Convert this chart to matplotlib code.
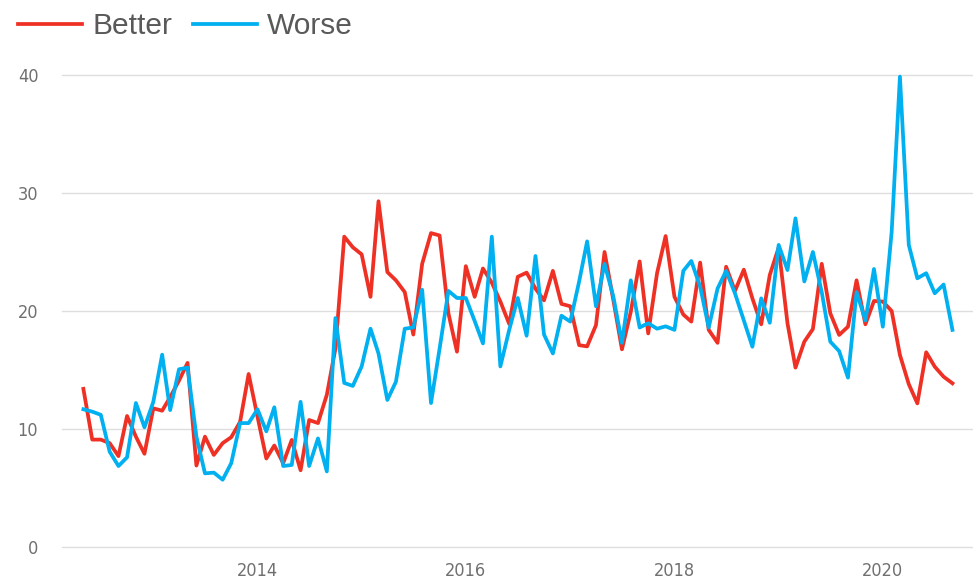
import matplotlib
matplotlib.use('Agg')
import matplotlib.pyplot as plt
import matplotlib.dates as mdates
import numpy as np
import pandas as pd

# monthly series, May 2012 .. Sep 2020
months = pd.date_range('2012-05-01', '2020-09-01', freq='MS')

better = [13.4, 9.1, 9.1, 8.8, 7.7, 11.1, 9.35, 7.9, 11.75, 11.55,
          12.7, 14.1, 15.6, 6.9, 9.35, 7.8, 8.8, 9.3, 10.6, 14.66,
          11.05, 7.5, 8.6, 7.1, 9.07, 6.5, 10.76, 10.5, 12.9, 16.8,
          26.3, 25.4, 24.8, 21.2, 29.3, 23.3, 22.6, 21.6, 18.0, 24.0,
          26.6, 26.4, 19.8, 16.55, 23.8, 21.2, 23.6, 22.4, 20.8, 18.9,
          22.9, 23.25, 21.9, 20.9, 23.4, 20.6, 20.4, 17.1, 17.0, 18.8,
          25.0, 20.9, 16.75, 19.94, 24.2, 18.1, 23.2, 26.35, 21.2, 19.7,
          19.1, 24.1, 18.4, 17.3, 23.75, 21.7, 23.5, 21.07, 18.87, 23.05,
          25.37, 18.96, 15.2, 17.4, 18.47, 24.0, 19.8, 17.97, 18.67, 22.6,
          18.87, 20.85, 20.8, 20.0, 16.27, 13.8, 12.17, 16.5, 15.28, 14.43,
          13.87]

worse = [11.67, 11.47, 11.2, 8.08, 6.86, 7.6, 12.2, 10.14, 12.3, 16.3,
         11.6, 15.06, 15.2, 9.35, 6.24, 6.3, 5.7, 7.1, 10.5, 10.5,
         11.67, 9.8, 11.84, 6.86, 6.95, 12.3, 6.86, 9.2, 6.4, 19.4,
         13.9, 13.65, 15.3, 18.5, 16.4, 12.46, 14.0, 18.5, 18.6, 21.8,
         12.2, 16.8, 21.7, 21.1, 21.1, 19.15, 17.25, 26.3, 15.3, 18.4,
         21.1, 17.9, 24.66, 18.0, 16.4, 19.6, 19.1, 22.5, 25.9, 20.4,
         24.0, 21.2, 17.3, 22.6, 18.6, 18.96, 18.5, 18.7, 18.4, 23.4,
         24.24, 22.06, 18.6, 21.9, 23.4, 21.5, 19.2, 16.97, 21.07, 19.0,
         25.6, 23.47, 27.85, 22.5, 25.0, 21.6, 17.4, 16.6, 14.35, 21.6,
         19.2, 23.56, 18.67, 26.7, 39.86, 25.6, 22.77, 23.2, 21.5, 22.24,
         18.4]

labels = ['Better', 'Worse']
colors = ['#EE3124', '#00B0F0']
yticks = [0, 10, 20, 30, 40]
xtick_years = ['2014', '2016', '2018', '2020']

fig = plt.figure(figsize=(9.73, 5.85), dpi=100)
ax = fig.add_axes([0.0637, 0.065, 0.9363, 0.8068])

for vals, lab, c in zip([better, worse], labels, colors):
    ax.plot(months, vals, color=c, linewidth=2.7, label=lab, clip_on=False)

ax.set_ylim(0, 40)
ax.set_yticks(yticks)
ax.set_xlim(months[0] - pd.Timedelta(days=75), months[-1] + pd.Timedelta(days=72))
ax.set_xticks([pd.Timestamp(y + '-01-01') for y in xtick_years])
ax.xaxis.set_major_formatter(mdates.DateFormatter('%Y'))

ax.grid(axis='y', color='#DEDEDE', linewidth=1.0)
for gl in ax.yaxis.get_gridlines():
    gl.set_clip_on(False)
ax.set_axisbelow(True)
for s in ax.spines.values():
    s.set_visible(False)
ax.tick_params(length=0, colors='#707070', labelsize=13)
ax.tick_params(axis='x', pad=11)
ax.tick_params(axis='y', pad=17)
for t in ax.get_xticklabels() + ax.get_yticklabels():
    t.set_family('DejaVu Sans')
    t.set_fontstretch('condensed')

fig.legend(loc='upper left', bbox_to_anchor=(-0.009, 1.025), ncol=2, frameon=False,
           prop={'family': 'Liberation Sans', 'size': 21.5}, labelcolor='#595959',
           handlelength=2.15, handletextpad=0.33, columnspacing=0.7)

plt.savefig('out.png', dpi=100)
